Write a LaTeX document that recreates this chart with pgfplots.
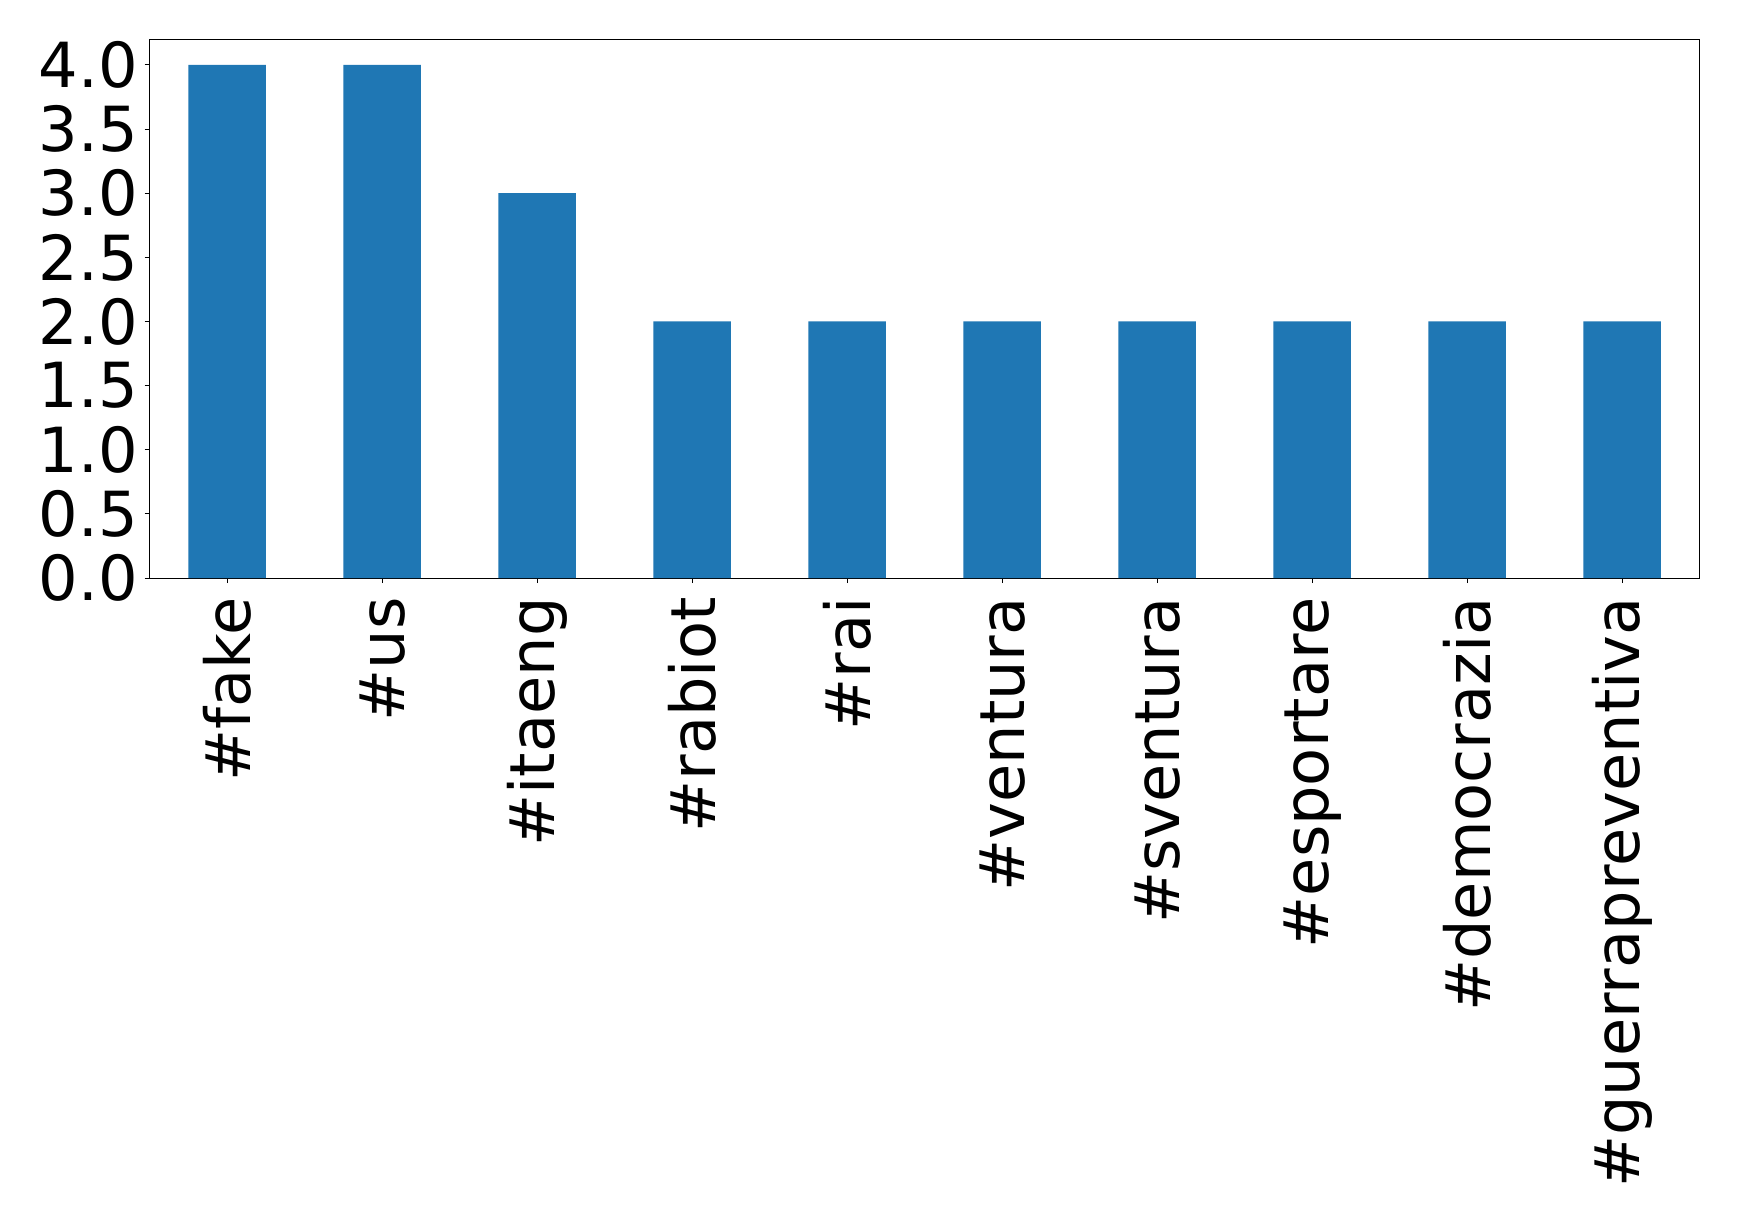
\documentclass[border=0pt]{standalone}
\usepackage{pgfplots}
\pgfplotsset{compat=1.18}
\usepackage{fontspec}
\setmainfont{DejaVu Sans}
\definecolor{mplblue}{HTML}{1F77B4}
\begin{document}
\fontsize{31.1}{38}\selectfont
\begin{tikzpicture}
\useasboundingbox (-74.85pt,-321.5pt) rectangle (794.65pt,289pt);
\begin{axis}[
  at={(0,0)}, anchor=south west,
  scale only axis,
  width=775pt, height=269.35pt,
  xmin=-0.5, xmax=9.5,
  ymin=0, ymax=4.2,
  ytick={0,0.5,1,1.5,2,2.5,3,3.5,4},
  yticklabels={0.0,0.5,1.0,1.5,2.0,2.5,3.0,3.5,4.0},
  xtick={0,...,9},
  xticklabels={\#fake,\#us,\#itaeng,\#rabiot,\#rai,\#ventura,\#sventura,\#esportare,\#democrazia,\#guerrapreventiva},
  tick align=outside,
  major tick length=2.5pt,
  xtick pos=bottom, ytick pos=left,
  tick style={black, line width=0.5pt},
  axis line style={black, line width=0.5pt},
  /pgf/number format/assume math mode=true,
  ticklabel style={font=\fontsize{31.1}{38}\selectfont, inner sep=0pt},
  yticklabel style={anchor=east, xshift=-3.3pt},
  xticklabel style={rotate=90, anchor=east},
  xticklabel shift=7pt,
  ymajorgrids=false, xmajorgrids=false,
]
\addplot[ybar, bar width=0.5, fill=mplblue, draw=none, bar shift=0pt] coordinates {
(0,4) (1,4) (2,3) (3,2) (4,2) (5,2) (6,2) (7,2) (8,2) (9,2)
};
\end{axis}
\end{tikzpicture}
\end{document}
